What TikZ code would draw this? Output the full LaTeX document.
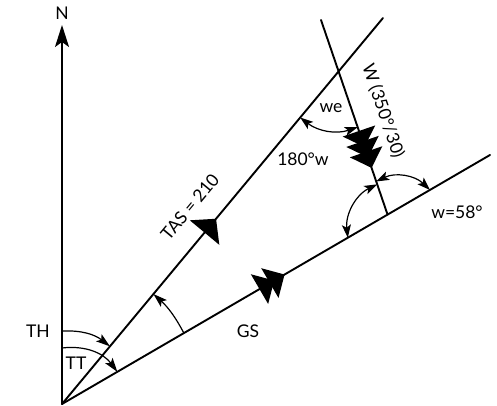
\documentclass[tikz,border=0pt]{standalone}
\usepackage{fontspec}
\setmainfont{Lato}
\usetikzlibrary{arrows.meta,calc,decorations.markings}

\begin{document}
\begin{tikzpicture}[
    x=1pt,y=1pt,
    vec/.style={line width=1.9pt,line cap=round},
    angarc/.style={line width=1.2pt,{Stealth[length=13pt,width=9pt,inset=3pt]}-{Stealth[length=13pt,width=9pt,inset=3pt]}},
    angone/.style={line width=1.2pt,-{Stealth[length=14pt,width=9pt,inset=3pt]}},
    lbl/.style={font=\fontsize{17.5}{20}\selectfont,inner sep=0pt},
    midtip/.style={postaction={decorate,decoration={markings,mark=at position #1 with {\arrow{Triangle[length=18pt,width=38pt]}}}}},
    midtwo/.style={postaction={decorate,decoration={markings,mark=at position #1 with {\arrow{Triangle[length=17pt,width=34pt,sep=-5pt] Triangle[length=17pt,width=34pt]}}}}},
    midthree/.style={postaction={decorate,decoration={markings,mark=at position #1 with {\arrow{Triangle[length=17pt,width=34pt,sep=-6pt] Triangle[length=17pt,width=34pt,sep=-6pt] Triangle[length=17pt,width=34pt]}}}}}
  ]
    \useasboundingbox (0,0) rectangle (497,406);
    \coordinate (o) at (62,2);
    \coordinate (ntip) at (62,381);
    \coordinate (tend) at (383,388);
    \coordinate (gend) at (490,251);
    \coordinate (wtop) at (321,386);
    \coordinate (wbot) at (388,190);
    \coordinate (p) at (intersection of o--tend and wtop--wbot);
    \coordinate (q) at (intersection of o--gend and wtop--wbot);
    \draw[vec,-{Stealth[length=22pt,width=14pt,inset=5pt]}] (o) -- (ntip);
    \draw[vec,midtip=0.48] (o) -- (tend);
    \draw[vec,midtwo=0.52] (o) -- (gend);
    \draw[vec,midthree=0.76] (wtop) -- (q);
    \node[lbl] (nn) at (62,393) {N};
    \node[lbl,rotate=50.25] (ntas) at (190,199) {TAS = 210};
    \node[lbl,rotate=-71.2] (nw) at (383,295) {W (350°/30)};
    \node[lbl] (nwe) at (331,298) {we};
    \node[lbl] (n180) at (303,247) {180°w};
    \node[lbl] (nw58) at (457,194) {w=58°};
    \node[lbl] (ngs) at (248,75) {GS};
    \node[lbl] (nth) at (38,75) {TH};
    \node[lbl] (ntt) at (76,43) {TT};
    \coordinate (th1) at ($(o)!73pt!(ntip)$);
    \coordinate (th2) at ($(o)!75pt!(tend)$);
    \coordinate (tt1) at ($(o)!56pt!(ntip)$);
    \coordinate (tt2) at ($(o)!64pt!(gend)$);
    \coordinate (dr1) at ($(o)!141pt!(gend)$);
    \coordinate (dr2) at ($(o)!143pt!(tend)$);
    \coordinate (we1) at ($(p)!60pt!(o)$);
    \coordinate (we2) at ($(p)!59pt!(q)$);
    \coordinate (bw1) at ($(q)!32pt!(p)$);
    \coordinate (bw2) at ($(q)!46pt!(o)$);
    \coordinate (ww1) at ($(q)!35pt!(p)$);
    \coordinate (ww2) at ($(q)!49pt!(gend)$);
    \draw[angone] (th1) to[bend left=20] (th2);
    \draw[angone] (tt1) to[bend left=30] (tt2);
    \draw[angone] (dr1) to[bend right=10] (dr2);
    \draw[angarc] (we1) to[bend right=28] (we2);
    \draw[angarc] (bw1) to[bend right=35] (bw2);
    \draw[angarc] (ww1) to[bend left=35] (ww2);
  \end{tikzpicture}
\end{document}
